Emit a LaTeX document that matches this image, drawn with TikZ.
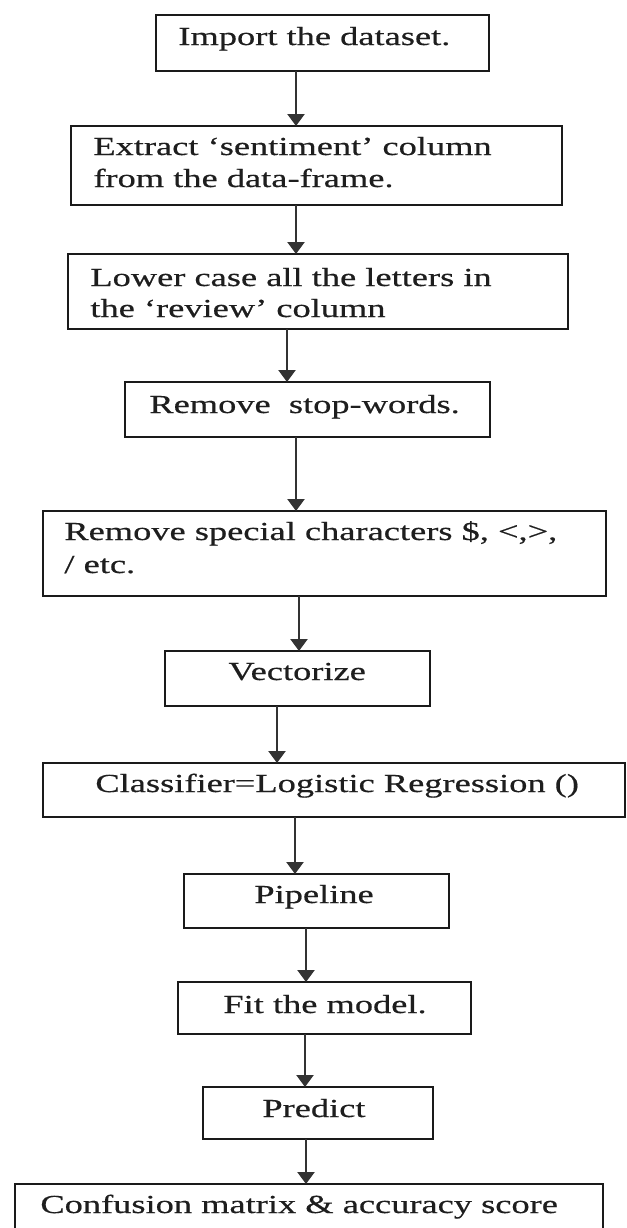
\documentclass[tikz,border=0pt]{standalone}
\usepackage{fontspec}
\setmainfont{Liberation Serif}[FakeStretch=1.4,FakeBold=0.5]
\usetikzlibrary{arrows.meta}
\definecolor{boxline}{HTML}{1A1A1A}
\definecolor{arrcol}{HTML}{333333}
\definecolor{txt}{HTML}{1E1E1E}
\begin{document}
\begin{tikzpicture}[x=0.5pt,y=-0.5pt,
  box/.style={draw=boxline, line width=1.1pt, inner sep=0pt, outer sep=0pt, rectangle},
  lbl/.style={anchor=base west, inner sep=0pt, font=\fontsize{13pt}{15.5pt}\selectfont, text=txt},
  arr/.style={draw=arrcol, line width=1.2pt, -{Triangle[length=6pt,width=8.5pt]}}]
\useasboundingbox (0,0) rectangle (627,1228);
\clip (0,0) rectangle (627,1228);
% boxes
\node[box, minimum width=166.5pt, minimum height=28pt]   (b1)  at (322.5,43)   {};
\node[box, minimum width=245.5pt, minimum height=39.5pt] (b2)  at (316.5,165.5) {};
\node[box, minimum width=250pt,   minimum height=37.5pt] (b3)  at (318,291.5)  {};
\node[box, minimum width=182.5pt, minimum height=27.5pt] (b4)  at (307.5,409.5) {};
\node[box, minimum width=281.5pt, minimum height=42.5pt] (b5)  at (324.5,553.5) {};
\node[box, minimum width=132.5pt, minimum height=27.5pt] (b6)  at (297.5,678.5) {};
\node[box, minimum width=291pt,   minimum height=27pt]   (b7)  at (334,790)    {};
\node[box, minimum width=132.5pt, minimum height=27pt]   (b8)  at (316.5,901)  {};
\node[box, minimum width=146.5pt, minimum height=26pt]   (b9)  at (324.5,1008) {};
\node[box, minimum width=115pt,   minimum height=26pt]   (b10) at (318,1113)   {};
\node[box, minimum width=294pt,   minimum height=33pt]   (b11) at (309,1217)   {};
% texts
\node[lbl] (t1)  at (178,45)   {Import the dataset.};
\node[lbl] (t2a) at (93,155)   {Extract ‘sentiment’ column};
\node[lbl] (t2b) at (93,187)   {from the data-frame.};
\node[lbl] (t3a) at (90,286)   {Lower case all the letters in};
\node[lbl] (t3b) at (90,317)   {the ‘review’ column};
\node[lbl] (t4)  at (149,413)  {Remove\ \ stop-words.};
\node[lbl] (t5a) at (64,540)   {Remove special characters \$, <,>,};
\node[lbl] (t5b) at (64,573)   {/ etc.};
\node[lbl] (t6)  at (228,680)  {Vectorize};
\node[lbl] (t7)  at (95,792)   {Classifier=Logistic Regression ()};
\node[lbl] (t8)  at (254,903)  {Pipeline};
\node[lbl] (t9)  at (223,1013) {Fit the model.};
\node[lbl] (t10) at (262,1117) {Predict};
\node[lbl] (t11) at (40,1213)  {Confusion matrix \& accuracy score};
% arrows
\draw[arr] (b1.south -| 296,0) -- (b2.north -| 296,0);
\draw[arr] (b2.south -| 296,0) -- (b3.north -| 296,0);
\draw[arr] (b3.south -| 287,0) -- (b4.north -| 287,0);
\draw[arr] (b4.south -| 296,0) -- (b5.north -| 296,0);
\draw[arr] (b5.south -| 299,0) -- (b6.north -| 299,0);
\draw[arr] (b6.south -| 277,0) -- (b7.north -| 277,0);
\draw[arr] (b7.south -| 295,0) -- (b8.north -| 295,0);
\draw[arr] (b8.south -| 306,0) -- (b9.north -| 306,0);
\draw[arr] (b9.south -| 305,0) -- (b10.north -| 305,0);
\draw[arr] (b10.south -| 306,0) -- (b11.north -| 306,0);
\end{tikzpicture}
\end{document}
